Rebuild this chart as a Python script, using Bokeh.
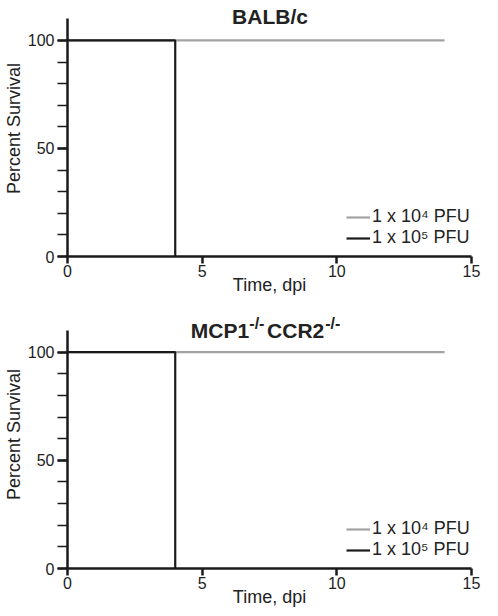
from bokeh.plotting import figure
from bokeh.models import Legend, LegendItem, Label, FixedTicker, Range1d
from bokeh.layouts import column
from bokeh.embed import file_html
from bokeh.resources import INLINE

# ---- data ----
days_1e4 = [0, 14]
surv_1e4 = [100, 100]
days_1e5 = [0, 4, 4]
surv_1e5 = [100, 100, 0]

legend_labels = ["1 x 10\u2074 PFU", "1 x 10\u2075 PFU"]
x_ticks = [0, 5, 10, 15]
y_ticks = [0, 50, 100]
y_minor_ticks = [0, 10, 20, 30, 40, 50, 60, 70, 80, 90, 100]
x_label = "Time, dpi"
y_label = "Percent Survival"

GRAY = "#a3a3a3"
BLACK = "#1a1a1a"
FONT = "Liberation Sans"


def make_panel(frame_h, y_top, bottom_border):
    p = figure(width=482, height=frame_h + bottom_border,
               min_border_left=62, min_border_right=11,
               min_border_top=0, min_border_bottom=bottom_border,
               x_range=Range1d(0, 15), y_range=Range1d(0, y_top),
               output_backend="svg", toolbar_location=None,
               background_fill_color="white", border_fill_color="white")
    p.outline_line_color = None
    p.xgrid.visible = False
    p.ygrid.visible = False

    r_low = p.line(days_1e4, surv_1e4, line_color=GRAY, line_width=2.2)
    r_high = p.line(days_1e5, surv_1e5, line_color=BLACK, line_width=2.2)

    # axes
    p.xaxis.ticker = FixedTicker(ticks=x_ticks, minor_ticks=[])
    p.yaxis.ticker = FixedTicker(ticks=y_ticks, minor_ticks=y_minor_ticks)
    p.yaxis.bounds = (0, 110)
    for ax in (p.xaxis[0], p.yaxis[0]):
        ax.axis_line_width = 2.5
        ax.axis_line_color = BLACK
        ax.major_tick_line_width = 2.5
        ax.major_tick_line_color = BLACK
        ax.minor_tick_line_width = 1.5
        ax.minor_tick_line_color = BLACK
        ax.major_tick_in = 0
        ax.minor_tick_in = 0
        ax.major_label_text_font = FONT
        ax.major_label_text_font_size = "16px"
        ax.major_label_text_color = "#222222"
        ax.axis_label_text_font = FONT
        ax.axis_label_text_font_size = "18px"
        ax.axis_label_text_font_style = "normal"
        ax.axis_label_text_color = "#222222"
    p.xaxis.major_tick_out = 7
    p.xaxis.major_label_standoff = 1
    p.xaxis.axis_label_standoff = -5
    p.yaxis.major_tick_out = 10
    p.yaxis.minor_tick_out = 10
    p.yaxis.major_label_standoff = 3
    p.yaxis.axis_label_standoff = 1
    p.xaxis.axis_label = x_label
    p.yaxis.axis_label = y_label

    legend = Legend(items=[LegendItem(label=legend_labels[0], renderers=[r_low]),
                           LegendItem(label=legend_labels[1], renderers=[r_high])],
                    location=(279, 8), border_line_color=None,
                    background_fill_alpha=0, margin=0, padding=4, spacing=-2,
                    glyph_width=24, label_standoff=2, label_height=20,
                    label_text_font=FONT, label_text_font_size="18px",
                    label_text_color="#222222")
    p.add_layout(legend)
    return p


p1 = make_panel(256, 118.5, 44)
p1.add_layout(Label(x=7.52, y=110.9, text="BALB/c", text_align="center",
                    text_baseline="middle", text_font=FONT,
                    text_font_size="21px", text_font_style="bold",
                    text_color="#222222"))

p2 = make_panel(268, 123.9, 42)
title_parts = [("MCP1", 4.58, 110.0, "21px"),
               ("-/-", 6.75, 113.2, "16px"),
               ("CCR2", 7.41, 110.0, "21px"),
               ("-/-", 9.57, 113.2, "16px")]
for txt, xx, yy, fs in title_parts:
    p2.add_layout(Label(x=xx, y=yy, text=txt, text_align="left",
                        text_baseline="middle", text_font=FONT,
                        text_font_size=fs, text_font_style="bold",
                        text_color="#222222"))

layout = column(p1, p2, spacing=0)
open("out.html", "w").write(file_html(layout, INLINE))
